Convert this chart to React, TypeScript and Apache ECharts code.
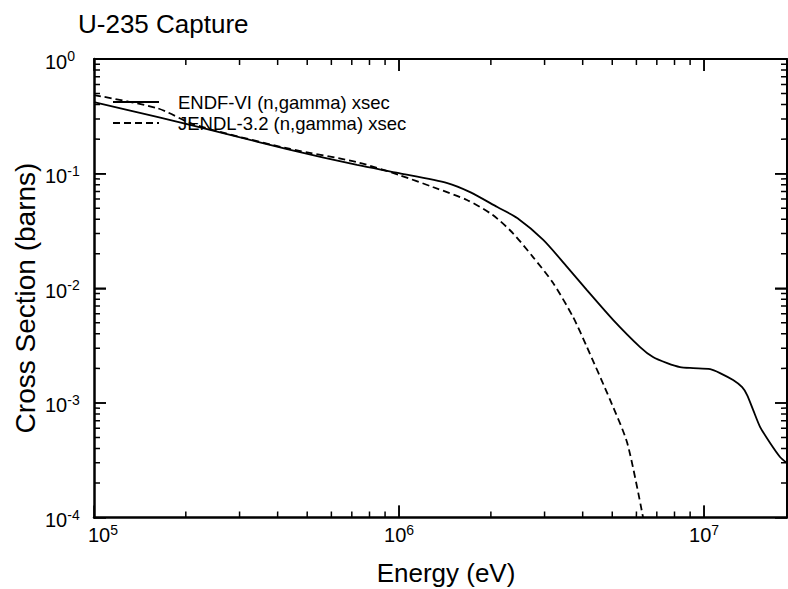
import React, { useEffect, useRef } from "react";
import * as echarts from "echarts";

// ---- Data ----
const endfEnergy = [1e5, 1.61e5, 2.65e5, 4.4e5, 7.28e5, 1.0e6, 1.44e6, 1.71e6, 2.1e6, 2.44e6, 2.97e6, 3.56e6, 4.13e6, 5.04e6, 6.17e6, 6.8e6, 7.57e6, 8.34e6, 9.2e6, 1.047e7, 1.128e7, 1.245e7, 1.333e7, 1.384e7, 1.449e7, 1.527e7, 1.646e7, 1.774e7, 1.87e7];
const endfXsec = [0.42, 0.312, 0.226, 0.161, 0.119, 0.101, 0.0828, 0.069, 0.0511, 0.041, 0.0264, 0.0153, 0.00964, 0.00528, 0.00307, 0.00251, 0.00222, 0.00205, 0.00201, 0.00197, 0.00182, 0.00158, 0.00137, 0.00117, 0.000865, 0.000615, 0.000446, 0.000337, 0.000298];

const jendlEnergy = [1e5, 1.61e5, 2.07e5, 2.59e5, 4.4e5, 7.28e5, 1.0e6, 1.29e6, 1.67e6, 2.03e6, 2.36e6, 2.75e6, 3.2e6, 3.72e6, 4.13e6, 4.92e6, 5.6e6, 6.31e6];
const jendlXsec = [0.485, 0.373, 0.276, 0.231, 0.164, 0.126, 0.0973, 0.0764, 0.0589, 0.0435, 0.0303, 0.0187, 0.0111, 0.00561, 0.00307, 0.00106, 0.000446, 0.0001];

const seriesNames = ["ENDF-VI (n,gamma) xsec", "JENDL-3.2 (n,gamma) xsec"];

const X_MIN = 1e5;
const X_MAX = 1.87e7;
const Y_MIN = 1e-4;
const Y_MAX = 1;

const xMajorTicks = [1e6, 1e7];
const xMinorTicks = [2e5, 3e5, 4e5, 5e5, 6e5, 7e5, 8e5, 9e5, 2e6, 3e6, 4e6, 5e6, 6e6, 7e6, 8e6, 9e6];
const yMajorTicks = [1e-3, 1e-2, 1e-1];
const yMinorTicks = [
  2e-4, 3e-4, 4e-4, 5e-4, 6e-4, 7e-4, 8e-4, 9e-4,
  2e-3, 3e-3, 4e-3, 5e-3, 6e-3, 7e-3, 8e-3, 9e-3,
  2e-2, 3e-2, 4e-2, 5e-2, 6e-2, 7e-2, 8e-2, 9e-2,
  2e-1, 3e-1, 4e-1, 5e-1, 6e-1, 7e-1, 8e-1, 9e-1,
];

const FONT = "'Liberation Sans', Arial, Helvetica, sans-serif";

function expLabel(v: number, first?: boolean) {
  const e = Math.log10(v);
  const r = Math.round(e);
  if (Math.abs(e - r) > 1e-3) return "";
  return `{${first ? "f" : "b"}|10}{s|${r}}`;
}

const richStyles = {
  b: { fontSize: 20, fontFamily: FONT, color: "#000", lineHeight: 20, padding: [5, 0, 0, 0] },
  f: { fontSize: 20, fontFamily: FONT, color: "#000", lineHeight: 20, padding: [5, 0, 0, 18] },
  s: { fontSize: 14, fontFamily: FONT, color: "#000", lineHeight: 14, verticalAlign: "top" },
};

const majorTickStyle = { show: true, inside: true, length: 12, lineStyle: { color: "#000", width: 1.5 } };

function mirrorAxis(kind: "x" | "y", position: string) {
  return {
    type: "log",
    logBase: 10,
    position,
    min: kind === "x" ? X_MIN : Y_MIN,
    max: kind === "x" ? X_MAX : Y_MAX,
    axisLine: { show: true, onZero: false, lineStyle: { color: "#000", width: 2 } },
    axisTick: majorTickStyle,
    axisLabel: { show: false },
    splitLine: { show: false },
  };
}

const textGraphics = [
  {
    type: "text",
    x: 446,
    y: 572.5,
    style: { text: "Energy (eV)", fontSize: 26, fontFamily: FONT, fill: "#000", textAlign: "center", textVerticalAlign: "middle" },
  },
  {
    type: "text",
    x: 25,
    y: 298,
    rotation: Math.PI / 2,
    style: { text: "Cross Section (barns)", fontSize: 28, fontFamily: FONT, fill: "#000", textAlign: "center", textVerticalAlign: "middle" },
  },
];

export default function App() {
  const ref = useRef<HTMLDivElement>(null);
  useEffect(() => {
    if (!ref.current) return;
    const chart = echarts.init(ref.current, undefined, { renderer: "svg" });

    chart.setOption({
      animation: false,
      title: {
        text: "U-235 Capture",
        left: 78,
        top: 11,
        padding: 0,
        textStyle: { fontSize: 26, fontWeight: "normal", color: "#000", fontFamily: FONT },
      },
      legend: {
        orient: "vertical",
        left: 112,
        top: 92,
        padding: 0,
        itemWidth: 46,
        itemHeight: 14,
        itemGap: 1,
        data: seriesNames,
        itemStyle: { opacity: 0 },
        textStyle: { fontSize: 18.5, color: "#000", fontFamily: FONT, lineHeight: 20, padding: [0, 0, 0, 14] },
      },
      grid: { left: 94, top: 59, right: 1, bottom: 71.5 },
      xAxis: [
        {
          type: "log",
          logBase: 10,
          position: "bottom",
          min: X_MIN,
          max: X_MAX,
          axisLine: { show: true, onZero: false, lineStyle: { color: "#000", width: 2.5 } },
          axisTick: majorTickStyle,
          splitLine: { show: false },
          axisLabel: {
            margin: 5,
            showMaxLabel: false,
            formatter: (v: number) => expLabel(v, Math.abs(Math.log10(v) - 5) < 1e-3),
            rich: richStyles,
          },
        },
        mirrorAxis("x", "top"),
      ],
      yAxis: [
        {
          type: "log",
          logBase: 10,
          position: "left",
          min: Y_MIN,
          max: Y_MAX,
          axisLine: { show: true, onZero: false, lineStyle: { color: "#000", width: 2.5 } },
          axisTick: majorTickStyle,
          splitLine: { show: false },
          axisLabel: {
            margin: 49,
            align: "left",
            formatter: (v: number) => expLabel(v),
            rich: richStyles,
          },
        },
        mirrorAxis("y", "right"),
      ],
      graphic: textGraphics,
      series: [
        {
          name: seriesNames[0],
          type: "line",
          xAxisIndex: 0,
          yAxisIndex: 0,
          data: endfEnergy.map((e, i) => [e, endfXsec[i]]),
          symbol: "none",
          smooth: 0.25,
          lineStyle: { color: "#000", width: 1.8, type: "solid" },
          itemStyle: { color: "#000" },
        },
        {
          name: seriesNames[1],
          type: "line",
          xAxisIndex: 0,
          yAxisIndex: 0,
          data: jendlEnergy.map((e, i) => [e, jendlXsec[i]]),
          symbol: "none",
          smooth: 0.25,
          lineStyle: { color: "#000", width: 1.8, type: [7, 4] },
          itemStyle: { color: "#000" },
        },
      ],
    });

    // Minor (and major) tick marks placed with the chart's own log scales.
    const toPx = (x: number, y: number) =>
      chart.convertToPixel({ xAxisIndex: 0, yAxisIndex: 0 }, [x, y]) as number[];
    const ticks: any[] = [];
    const seg = (x1: number, y1: number, x2: number, y2: number) => {
      ticks.push({
        type: "line",
        z: 10,
        shape: { x1, y1, x2, y2 },
        style: { stroke: "#000", lineWidth: 1.5 },
      });
    };
    const addX = (v: number, len: number) => {
      const b = toPx(v, Y_MIN);
      const t = toPx(v, Y_MAX);
      if (!b || !t) return;
      seg(b[0], b[1], b[0] + 0.01, b[1] - len);
      seg(t[0], t[1], t[0] + 0.01, t[1] + len);
    };
    const addY = (v: number, len: number) => {
      const l = toPx(X_MIN, v);
      const r = toPx(X_MAX, v);
      if (!l || !r) return;
      seg(l[0], l[1], l[0] + len, l[1] + 0.01);
      seg(r[0], r[1], r[0] - len, r[1] + 0.01);
    };
    xMajorTicks.forEach((v) => addX(v, 12));
    xMinorTicks.forEach((v) => addX(v, 6));
    yMajorTicks.forEach((v) => addY(v, 12));
    yMinorTicks.forEach((v) => addY(v, 6));

    chart.setOption({ graphic: [...textGraphics, ...ticks] });

    return () => chart.dispose();
  }, []);

  return (
    <div
      ref={ref}
      style={{ position: "fixed", left: 0, top: 0, width: 788, height: 589, background: "#fff" }}
    />
  );
}
